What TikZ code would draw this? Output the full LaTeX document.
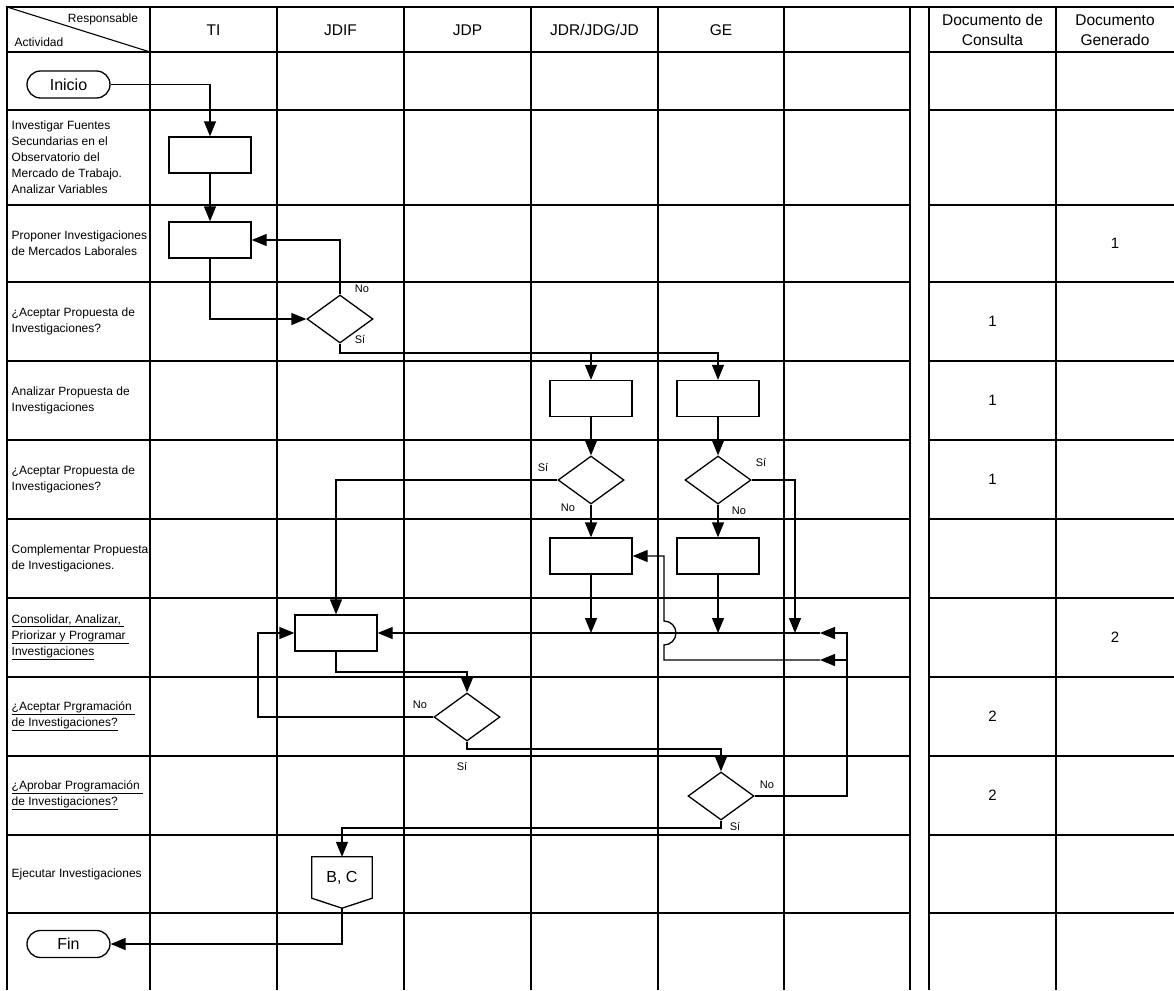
\documentclass[tikz,border=0pt]{standalone}
\usepackage{fontspec}
\setmainfont{Liberation Sans}
\usepackage{tikz}
\usetikzlibrary{calc,arrows.meta,shapes.geometric,shapes.misc}

\begin{document}
\begin{tikzpicture}[x=1pt, y=-1pt, >={Triangle[length=15pt,width=12pt]},
  rejilla/.style={line width=1.1pt},
  borde/.style={line width=2.6pt},
  linea/.style={line width=1.3pt},
  flecha/.style={->, line width=1.3pt},
  proceso/.style={draw, line width=1.3pt, minimum width=82pt, minimum height=36pt, inner sep=0pt},
  decision/.style={draw, diamond, line width=1.3pt, minimum width=66pt, minimum height=48pt, inner sep=0pt},
  terminal/.style={draw, rounded rectangle, line width=1.3pt, minimum width=83pt, minimum height=27pt, inner sep=0pt, font=\fontsize{16}{19}\selectfont},
  actividad/.style={anchor=west, align=left, inner sep=1.5pt, font=\fontsize{12}{16}\selectfont},
  encab/.style={align=center, font=\fontsize{15.5}{20}\selectfont},
  etiq/.style={inner sep=0pt, font=\fontsize{11}{13}\selectfont},
  doc/.style={font=\fontsize{15}{18}\selectfont}]
  \useasboundingbox (0,0) rectangle (1174,990);

  % Grid
  \foreach \y in {52,110,205,282,361,440,519,598,677,756,835,913}{
    \draw[rejilla] (7,\y) -- (910,\y);
    \draw[rejilla] (929,\y) -- (1174,\y);
  }
  \foreach \x in {150,277,404,531,658,784,929,1056}
    \draw[rejilla] (\x,7) -- (\x,990);
  \draw[borde] (7,990) -- (7,7) -- (1174,7);
  \draw[borde] (910,7) -- (910,990);
  \draw[rejilla] (7,7) -- (150,52);

  % Header
  \node[etiq, font=\fontsize{12}{14}\selectfont] (resp) at (103,19) {Responsable};
  \node[etiq, font=\fontsize{12}{14}\selectfont] (activ) at (39,42) {Actividad};
  \node[encab] (ti) at (213.5,30) {TI};
  \node[encab] (jdif) at (340.5,30) {JDIF};
  \node[encab] (jdp) at (467.5,30) {JDP};
  \node[encab] (jdr) at (594.5,30) {JDR/JDG/JD};
  \node[encab] (ge) at (721,30) {GE};
  \node[encab] (consulta) at (992.5,30) {Documento de\\Consulta};
  \node[encab] (generado) at (1115,30) {Documento\\Generado};

  % Activities
  \node[actividad] (act2) at (10,157.5) {Investigar Fuentes\\Secundarias en el\\Observatorio del\\Mercado de Trabajo.\\Analizar Variables};
  \node[actividad] (act3) at (10,243.5) {Proponer Investigaciones\\de Mercados Laborales};
  \node[actividad] (act4) at (10,321.5) {¿Aceptar Propuesta de\\Investigaciones?};
  \node[actividad] (act5) at (10,400.5) {Analizar Propuesta de\\Investigaciones};
  \node[actividad] (act6) at (10,479.5) {¿Aceptar Propuesta de\\Investigaciones?};
  \node[actividad] (act7) at (10,558.5) {Complementar Propuesta\\de Investigaciones.};
  \node[actividad] (act8) at (10,637.5) {\underline{Consolidar, Analizar,~}\\\underline{Priorizar y Programar~}\\\underline{Investigaciones}};
  \node[actividad] (act9) at (10,716.5) {\underline{¿Aceptar Prgramación~}\\\underline{de Investigaciones?}};
  \node[actividad] (act10) at (10,795.5) {\underline{¿Aprobar Programación~}\\\underline{de Investigaciones?}};
  \node[actividad] (act11) at (10,874) {Ejecutar Investigaciones};

  % Documents
  \node[doc] (gen1) at (1115,243.5) {1};
  \node[doc] (con1) at (992.5,321.5) {1};
  \node[doc] (con2) at (992.5,400.5) {1};
  \node[doc] (con3) at (992.5,479.5) {1};
  \node[doc] (gen2) at (1115,637.5) {2};
  \node[doc] (con4) at (992.5,716.5) {2};
  \node[doc] (con5) at (992.5,795.5) {2};

  % Flow nodes
  \node[terminal] (inicio) at (68.5,84.5) {Inicio};
  \node[proceso] (inv) at (210,155) {};
  \node[proceso] (prop) at (210,240) {};
  \node[decision] (acep1) at (340,319) {};
  \node[proceso] (analjdr) at (591,398.5) {};
  \node[proceso] (analge) at (718,398.5) {};
  \node[decision] (acepjdr) at (591,480) {};
  \node[decision] (acepge) at (718,480) {};
  \node[proceso] (compjdr) at (591,556) {};
  \node[proceso] (compge) at (718,556) {};
  \node[proceso] (consol) at (336,633) {};
  \node[decision] (acep2) at (467,717) {};
  \node[decision] (aprob) at (721,796) {};
  \node[minimum width=60pt, minimum height=41pt, inner sep=0pt, font=\fontsize{16}{19}\selectfont] (ejec) at (342,877.5) {B, C};
  \coordinate (ejecp) at ($(ejec.south)+(0,10)$);
  \draw[linea] (ejec.south west) -- (ejec.north west) -- (ejec.north east) -- (ejec.south east) -- (ejecp) -- cycle;
  \node[terminal] (fin) at (68.5,944) {Fin};

  % Bends and joins
  \coordinate (s1) at (340,353);
  \coordinate (m1) at (591,633);
  \coordinate (m2) at (718,633);
  \coordinate (m3) at (795,633);
  \coordinate (r1) at (847,633);
  \coordinate (t1) at (820,633);
  \coordinate (r2) at (847,660);
  \coordinate (t2) at (820,660);
  \coordinate (jmp) at (664,633);
  \coordinate (k1) at (336,672);
  \coordinate (l1) at (258,717);
  \coordinate (k2) at (467,749);
  \coordinate (k3) at (721,828);

  % Connectors
  \draw[flecha] (inicio) -| (inv);
  \draw[flecha] (inv) -- (prop);
  \draw[flecha] (prop) |- (acep1);
  \draw[flecha] (acep1) |- (prop);
  \draw[flecha] (acep1) -- (s1) -| (analjdr);
  \draw[flecha] (s1) -| (analge);
  \draw[flecha] (analjdr) -- (acepjdr);
  \draw[flecha] (analge) -- (acepge);
  \draw[flecha] (acepjdr) -- (compjdr);
  \draw[flecha] (acepge) -- (compge);
  \draw[flecha] (acepjdr) -| (consol);
  \draw[flecha] (acepge) -| (m3);
  \draw[flecha] (compjdr) -- (m1);
  \draw[flecha] (compge) -- (m2);
  \draw[flecha] (aprob) -| (r1) -- (t1);
  \draw[flecha] (t1) -- (consol);
  \draw[flecha] (r2) -- (t2);
  \draw[flecha] (t2) -| ($(jmp)+(0,12)$) arc[start angle=-90, end angle=90, radius=12pt] |- (compjdr);
  \draw[flecha] (consol) -- (k1) -| (acep2);
  \draw[flecha] (acep2) -- (l1) |- (consol);
  \draw[flecha] (acep2) -- (k2) -| (aprob);
  \draw[flecha] (aprob) -- (k3) -| (ejec);
  \draw[flecha] (ejecp) |- (fin);

  % Branch labels
  \node[etiq] (no1) at (362,289) {No};
  \node[etiq] (si1) at (360,339) {Sí};
  \node[etiq] (si2) at (543,467) {Sí};
  \node[etiq] (no2) at (568,508) {No};
  \node[etiq] (si3) at (761,462) {Sí};
  \node[etiq] (no3) at (739,511) {No};
  \node[etiq] (no4) at (420,705) {No};
  \node[etiq] (si4) at (462,766) {Sí};
  \node[etiq] (no5) at (767,785) {No};
  \node[etiq] (si5) at (735,826) {Sí};
\end{tikzpicture}
\end{document}
